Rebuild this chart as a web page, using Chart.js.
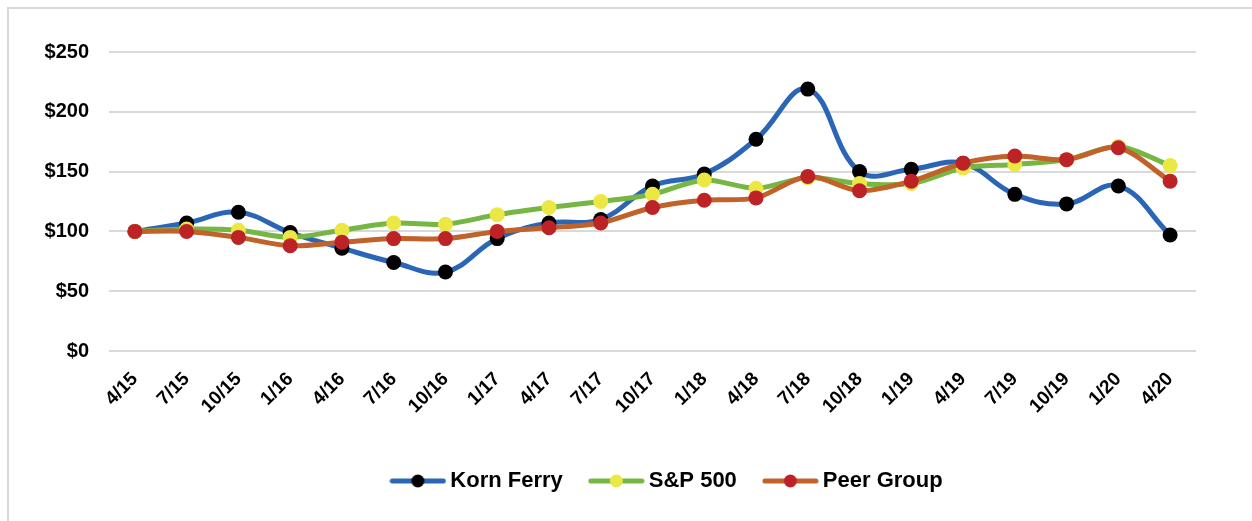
<!DOCTYPE html>
<html>
<head>
<meta charset="utf-8">
<script src="https://cdn.jsdelivr.net/npm/chart.js@4.4.1/dist/chart.umd.min.js"></script>
<style>
  html, body { margin: 0; padding: 0; background: #fff; }
  #wrap { position: relative; width: 1252px; height: 521px; overflow: hidden; }
  #frame { position: absolute; left: 7px; top: 7px; width: 1300px; height: 600px;
           border-left: 2px solid #d9d9d9; border-top: 2px solid #d9d9d9; }
  canvas { position: absolute; left: 0; top: 0; }
</style>
</head>
<body>
<div id="wrap">
  <div id="frame"></div>
  <canvas id="myChart" width="1252" height="521"></canvas>
</div>
<script>
// Quarter labels
const quarters = ['4/15', '7/15', '10/15', '1/16', '4/16', '7/16', '10/16', '1/17', '4/17', '7/17',
    '10/17', '1/18', '4/18', '7/18', '10/18', '1/19', '4/19', '7/19', '10/19', '1/20', '4/20'];

// Value of $100 invested
const kornFerry = [100, 107, 116, 99, 86, 74, 66, 94, 107, 110, 138, 148, 177, 219, 150, 152, 157, 131, 123, 138, 97];
const sp500 = [100, 102, 101, 95, 101, 107, 106, 114, 120, 125, 131, 143, 136, 145, 140, 140, 153, 156, 160, 171, 155];
const peerGroup = [100, 100, 95, 88, 91, 94, 94, 100, 103, 107, 120, 126, 128, 146, 134, 142, 157, 163, 160, 170, 142];

const yTicks = [0, 50, 100, 150, 200, 250];

const FONT = 'Arial, "Liberation Sans", sans-serif';

// legend marker: a short line with a dot in the middle
function legendMarker(lineColor, dotColor) {
    const c = document.createElement('canvas');
    c.width = 57;
    c.height = 16;
    const g = c.getContext('2d');
    g.strokeStyle = lineColor;
    g.lineWidth = 5;
    g.lineCap = 'round';
    g.beginPath();
    g.moveTo(3, 8);
    g.lineTo(54, 8);
    g.stroke();
    g.fillStyle = dotColor;
    g.beginPath();
    g.arc(28.5, 8, 6.5, 0, Math.PI * 2);
    g.fill();
    return c;
}

const series = [
    { label: 'Korn Ferry', data: kornFerry, line: '#2b66b6', dot: '#000000', tension: 0.4, order: 3 },
    { label: 'S&P 500', data: sp500, line: '#76b743', dot: '#ebe845', tension: 0.3, order: 2 },
    { label: 'Peer Group', data: peerGroup, line: '#c0622a', dot: '#bd2227', tension: 0.3, order: 1 }
];

const data = {
    labels: quarters,
    datasets: series.map(s => ({
        label: s.label,
        data: s.data,
        borderColor: s.line,
        backgroundColor: s.dot,
        pointBackgroundColor: s.dot,
        pointBorderColor: s.dot,
        pointRadius: 7.5,
        pointBorderWidth: 0,
        borderWidth: 5,
        tension: s.tension,
        order: s.order,
        legendMarker: legendMarker(s.line, s.dot)
    }))
};

// move the legend to where it sits in the original
const legendShift = {
    id: 'legendShift',
    afterLayout(chart) {
        const lg = chart.legend;
        const shift = 669.5 - (lg.left + lg.right) / 2;
        lg.left += shift;
        lg.right += shift;
    }
};

const config = {
    type: 'line',
    data: data,
    plugins: [legendShift],
    options: {
        responsive: false,
        animation: false,
        layout: {
            padding: { left: 0, right: 56, top: 52, bottom: 19 }
        },
        scales: {
            x: {
                offset: true,
                grid: { display: false },
                border: { display: false },
                ticks: {
                    color: '#000',
                    font: { family: FONT, size: 19, weight: 'bold' },
                    minRotation: 45,
                    maxRotation: 45,
                    padding: 9
                },
                afterFit: axis => { axis.height = 87; }
            },
            y: {
                min: 0,
                max: 250,
                afterBuildTicks: axis => { axis.ticks = yTicks.map(v => ({ value: v })); },
                grid: { color: '#d9d9d9', lineWidth: 2, drawTicks: false },
                border: { display: false },
                ticks: {
                    color: '#000',
                    font: { family: FONT, size: 20, weight: 'bold' },
                    padding: 20,
                    callback: v => '$' + v
                },
                afterFit: axis => { axis.width = 109; }
            }
        },
        plugins: {
            tooltip: { enabled: false },
            legend: {
                position: 'bottom',
                labels: {
                    usePointStyle: true,
                    pointStyleWidth: 43,
                    color: '#000',
                    font: { family: FONT, size: 22, weight: 'bold' },
                    padding: 32,
                    generateLabels: chart => chart.data.datasets.map((ds, i) => ({
                        text: ds.label,
                        pointStyle: ds.legendMarker,
                        fillStyle: ds.backgroundColor,
                        strokeStyle: ds.borderColor,
                        lineWidth: 0,
                        hidden: false,
                        datasetIndex: i
                    }))
                }
            }
        }
    }
};

const ctx = document.getElementById('myChart').getContext('2d');
const myChart = new Chart(ctx, config);
</script>
</body>
</html>
